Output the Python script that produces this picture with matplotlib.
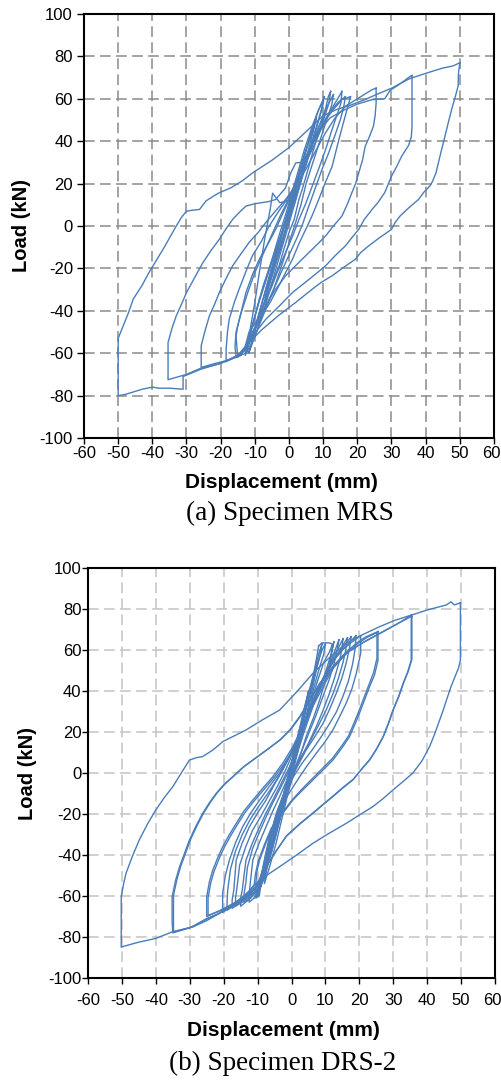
import matplotlib
matplotlib.use("Agg")
import matplotlib.pyplot as plt
from matplotlib.transforms import ScaledTranslation

# ---- (a) Specimen MRS : load-displacement cycles, (mm, kN) ----
mrs_c4 = [(2.5, 22), (1.8, 17), (0.5, 8), (-1, -2), (-2.5, -11), (-4, -18), (-5, -23), (-4.2, -17),
          (-3, -9), (-1.5, 0), (0, 8), (1.5, 16), (2.5, 22)]
mrs_c6 = [(5, 36), (4.3, 31), (2.5, 20), (0.5, 8), (-1.5, -4), (-3.5, -15), (-5.5, -26), (-7, -34),
          (-6.2, -28), (-4.5, -18), (-2.5, -7), (-0.5, 5), (1.5, 16), (3.5, 28), (5, 36)]
mrs_c8 = [(8, 51), (7.2, 45), (5, 32), (2.5, 17), (0, 3), (-2.5, -10), (-5, -24), (-7.5, -37),
          (-9.5, -47), (-10.3, -51), (-9.3, -44), (-7, -31), (-4.5, -17), (-2, -3), (0.5, 11),
          (3, 25), (5.5, 38), (8, 51)]
mrs_c10a = [(10.3, 61), (9.8, 56), (8, 46), (5.5, 32), (3, 18), (0.5, 4), (-2, -10), (-4.5, -24),
            (-7, -38), (-9.5, -50), (-11.8, -60), (-10.8, -54), (-8.5, -40), (-6, -25), (-3.5, -11),
            (-1, 3), (1.5, 17), (4, 31), (6.5, 44), (8.5, 54), (10.3, 61)]
mrs_c10b = [(10, 59), (9.5, 55), (7.5, 44), (5.5, 33), (3.5, 22), (1.5, 10), (0.2, 12), (-2.7, 11),
            (-4.8, 15.5), (-5.5, 8), (-7, -5), (-8.5, -20), (-10, -36), (-11.5, -50), (-12.3, -58),
            (-11.5, -52), (-9.5, -40), (-7.5, -28), (-5, -16), (-3, -5), (-0.5, 8), (2, 22),
            (4.5, 36), (7, 48), (8.7, 55), (10, 59)]
mrs_c12 = [(12.2, 63.5), (11.7, 58), (10.5, 52), (8.7, 44), (7, 35), (5.8, 28), (4, 18), (2.9, 12.5),
           (1.5, 3), (0, -3), (-1.5, -11), (-2.9, -18.8), (-5, -27), (-6.8, -34.5), (-9, -44),
           (-10.7, -51), (-12.6, -60), (-12, -55), (-10.7, -47), (-8.7, -34.5), (-6.8, -25),
           (-4.9, -15.7), (-3, -7), (-1, 1.6), (1, 10), (2.9, 18.8), (5, 29), (6.8, 37.6),
           (8.5, 46), (9.7, 50), (10.8, 56), (11.5, 61), (12.2, 63.5)]
mrs_c12b = [(13, 62), (12.5, 57), (11, 50), (9, 40), (7, 30), (5, 20), (3.5, 10), (2, 2), (0, -8),
            (-2, -18), (-4.5, -30), (-7, -40), (-9.5, -50), (-11.5, -57), (-12.8, -61),
            (-12.3, -56), (-11, -48), (-9, -37), (-7, -27), (-5, -17), (-3, -8), (-1, 2),
            (1.5, 13), (4, 26), (6.5, 38), (9, 48), (11, 56), (13, 62)]
mrs_c15 = [(15.5, 63.5), (15.2, 58), (14.6, 55), (12.5, 45), (10.7, 36), (8.7, 27), (6.8, 18.8),
           (5, 11), (2.9, 3), (1, -5), (-1, -12.5), (-3, -20), (-4.9, -28), (-7.5, -38),
           (-9.7, -47), (-11.5, -53), (-12.6, -56.5), (-14, -60), (-15, -62), (-15.2, -58),
           (-15.5, -52), (-15, -47), (-12.6, -31.4), (-10.7, -23), (-8.7, -15.7), (-6, -8),
           (-3.9, -1.6), (-1.5, 7), (1, 15.7), (3.5, 26), (6.8, 36), (9.5, 46), (11.7, 53),
           (13.5, 58), (15.5, 63.5)]
mrs_c15b = [(16.5, 61), (16, 56), (15, 50), (13.5, 43), (11.5, 34), (9.5, 26), (7.5, 17), (5.5, 8),
            (4, 1), (2.5, -5), (0.5, -12), (-1.5, -19), (-4, -28), (-6.5, -37), (-9, -46),
            (-11.5, -54), (-13, -59), (-15.5, -61.5), (-15.8, -57), (-15.5, -50), (-14, -41),
            (-12, -31), (-10, -22), (-7.5, -13), (-5, -4), (-2.5, 5), (0, 13), (3, 24), (6, 36),
            (9, 46), (12, 54), (14.5, 58.5), (16.5, 61)]
mrs_c18 = [(18, 61), (17.5, 58), (17, 55), (15.8, 48), (14.6, 40.8), (12.6, 28), (10.5, 20),
           (8.7, 12.5), (6.8, 5), (4.9, -1.6), (3, -8), (1, -15.7), (-1, -22), (-2.9, -28),
           (-5.5, -36), (-8.7, -44), (-11, -51), (-12.6, -56.5), (-15, -61), (-18.4, -64),
           (-18.4, -58), (-18, -50), (-17.5, -44), (-16, -36), (-14.6, -29.8), (-12.5, -21),
           (-10.7, -14), (-8, -7), (-5.8, 0), (-3, 7), (0, 14), (2.5, 22), (4.9, 31.4), (7.5, 41),
           (10.7, 50), (13, 55), (15.5, 59.6), (18, 61)]
mrs_c25 = [(25.5, 65), (25.5, 62), (25.5, 58), (25.2, 52), (24.7, 47), (23.5, 42), (22.3, 37.6),
           (21.5, 31), (20.4, 25), (19.5, 20), (18.4, 15.7), (17, 10), (15.5, 4.7), (13, 0),
           (10.7, -4.7), (8.7, -8), (6.8, -11), (3, -17), (-1, -23.5), (-4, -30), (-6.8, -37.6),
           (-9.5, -45), (-11.7, -50), (-13, -58), (-15, -61), (-18.4, -63.5), (-22, -65),
           (-25.7, -66.7), (-25.7, -62), (-25.7, -56.5), (-24.5, -49), (-23.3, -42.4), (-21.8, -37),
           (-20.4, -31.4), (-18.5, -25), (-16.5, -18.8), (-14, -13), (-11.7, -7.8), (-9, -3),
           (-6.8, 1.6), (-4, 7), (-1, 12.5), (2, 19), (4.9, 26.7), (8, 36), (10.7, 44),
           (13.5, 51), (16.5, 56.5), (20, 60), (22.5, 62.5), (24.3, 64.3), (25.5, 65)]
mrs_c35 = [(36, 71), (36, 65), (36, 55), (36, 47), (35.8, 42), (35, 38), (33, 33), (31.5, 28),
           (30, 23.5), (28, 15.7), (26, 11), (24.3, 7.8), (22, 3), (20.4, -1.6), (18.4, -5.5),
           (16.5, -9.4), (13.5, -14), (10.7, -18.8), (6, -25), (1, -31.4), (-3, -38), (-6.8, -44),
           (-9.7, -50), (-11.7, -55), (-12.6, -60), (-15, -61.5), (-20.4, -65), (-25.7, -67),
           (-30, -70), (-35.4, -72.5), (-35.4, -65), (-35.4, -55), (-34.2, -48), (-33, -42.4),
           (-31.5, -37), (-30, -31.4), (-27.5, -24), (-25.2, -17.3), (-22.8, -11.5), (-20.4, -6.3),
           (-18.5, -1.5), (-16.5, 3.1), (-14.5, 6.5), (-12.6, 9.4), (-10, 10.5), (-6, 11.5),
           (-3.9, 12.5), (-1, 18), (0.5, 25), (2, 29.8), (4, 30), (6, 36), (9, 45), (12, 51),
           (16.5, 55), (20, 57.5), (24.3, 59.6), (28, 60), (29.6, 64), (32, 66.5), (35.5, 70.6),
           (36, 71)]
mrs_c50 = [(50, 77), (49.6, 72), (49.5, 66), (48.5, 60), (47.6, 55), (46.5, 48), (45.6, 42),
           (44.5, 35), (43, 25), (42, 21), (41.3, 19), (39.5, 16), (37.9, 12.5), (35, 8.5),
           (32.5, 4.7), (31, 1.5), (30, -1.6), (26.5, -5.5), (23.3, -9.4), (21, -12.5),
           (19.4, -15.7), (16, -19.5), (12.6, -23.5), (9.5, -26.5), (6.8, -29.8), (2, -36),
           (-2.9, -42), (-8, -49), (-12.6, -56.5), (-14, -61), (-20.4, -65), (-25.7, -67.5),
           (-31, -71), (-31, -77), (-35, -76.5), (-38, -76.5), (-40, -76), (-43, -77), (-46, -78.5),
           (-48, -79.5), (-50, -80), (-50, -70), (-50, -60), (-50, -53), (-49.5, -51), (-48.5, -47),
           (-47, -41), (-45.6, -34.5), (-43, -28), (-41, -22), (-39.8, -18.8), (-36.5, -10),
           (-33, 0), (-31.5, 4), (-30, 7), (-28, 7.5), (-26.2, 7.8), (-24.3, 11.8), (-22.2, 14),
           (-20.4, 15.7), (-17, 18), (-13.5, 21.5), (-10.7, 25), (-5, 31), (0, 37), (4, 43),
           (8, 49), (10, 52), (14, 55), (18, 57), (22, 59.5), (25.6, 62), (30, 65), (35.3, 69.5),
           (40, 72), (45, 74.5), (48, 75.5), (50, 77)]

# ---- (b) Specimen DRS-2 ----
drs_c3 = [(2.5, 22), (2, 18), (0.5, 6), (-1, -5), (-2.5, -16), (-3.5, -23), (-3, -19), (-1.5, -7),
          (0, 4), (1.5, 15), (2.5, 22)]
drs_c5 = [(5, 40), (4.5, 35), (3, 22), (1, 8), (-1, -6), (-3, -20), (-5, -33), (-6, -39),
          (-5.3, -33), (-3.5, -20), (-1.5, -6), (0.5, 8), (2.5, 22), (4, 33), (5, 40)]
drs_c8 = [(7.5, 54), (7, 48), (5.5, 36), (3.5, 22), (1.5, 8), (-0.5, -6), (-2.5, -20), (-4.5, -34),
          (-6.5, -46), (-8, -54), (-7.5, -48), (-6, -36), (-4, -22), (-2, -8), (0, 5), (2, 19),
          (4, 33), (6, 45), (7.5, 54)]
drs_c10a = [(8, 62), (9, 63.5), (11, 63.5), (12, 63), (11.5, 60), (9.5, 54), (7.5, 44), (5, 30),
            (2.5, 15), (0, 0), (-2.5, -15), (-5, -30), (-7.5, -45), (-9.5, -56), (-10.5, -61),
            (-9.5, -60), (-9, -54), (-7, -42), (-5, -30), (-3, -17), (-1, -4), (1, 9), (3, 23),
            (5, 37), (6.5, 48), (7.5, 57), (8, 62)]
drs_c10b = [(10, 63), (9.5, 58), (8, 50), (6, 38), (3.5, 23), (1, 8), (-1.5, -8), (-4, -24),
            (-6.5, -39), (-8.5, -51), (-10, -59), (-11, -61), (-10, -57), (-8, -46), (-6, -34),
            (-4, -21), (-2, -8), (0.5, 8), (2.5, 21), (4.5, 34), (6.5, 46), (8, 55), (9, 60),
            (10, 63)]
drs_c10c = [(9, 63), (8.5, 58), (7, 48), (5, 36), (3, 23), (0.5, 7), (-2, -10), (-4.5, -27),
            (-7, -43), (-9, -55), (-10, -60), (-9.2, -56), (-7.5, -46), (-5.5, -33), (-3.5, -20),
            (-1.5, -7), (1, 10), (3.5, 26), (5.5, 40), (7, 51), (8, 58), (9, 63)]
drs_c12 = [(12.5, 64), (12, 60), (11.2, 52), (9.8, 44), (8.3, 35.6), (6.5, 27), (4.3, 17.7),
           (2.5, 8), (0.4, -1.8), (-1.5, -12), (-3.5, -23), (-5, -33), (-6.5, -42.4), (-8, -51),
           (-9.5, -57), (-11, -61), (-12.5, -63), (-12.5, -60), (-12.3, -56), (-11.4, -42.4),
           (-9.5, -34), (-7.5, -26.2), (-5.5, -18.5), (-3.5, -11.5), (-1, -2), (1.4, 8),
           (3.5, 19), (6.3, 32.4), (8.5, 42), (10.2, 50), (11.5, 57), (12.5, 64)]
drs_c14 = [(14, 65), (13.5, 60), (12.5, 53), (11, 45), (9.2, 37), (7.2, 28), (5, 19), (2.8, 10),
           (0.6, 1), (-1.5, -8), (-3.5, -18), (-5.2, -28), (-6.8, -39), (-8.2, -49), (-9.8, -56),
           (-12, -60.5), (-14, -63), (-14, -59), (-13.5, -54), (-13, -46), (-11.5, -37),
           (-9.5, -29), (-7.5, -21.5), (-5.5, -14.5), (-3, -6.5), (-0.8, 1), (1.5, 11), (4, 23),
           (6.5, 35), (9, 45), (11.5, 54), (14, 65)]
drs_c15 = [(15.2, 65.5), (14.8, 60), (14.2, 55), (12.8, 47), (11.2, 38.9), (9.3, 30.5),
           (7.3, 22.6), (5, 14.5), (2.4, 6.3), (0.3, -1.8), (-1.6, -9.9), (-3.3, -19), (-5, -29.4),
           (-6.5, -40), (-7.8, -50.6), (-9.5, -56), (-12, -61), (-15, -65), (-15, -61),
           (-14.5, -57), (-14, -50), (-13.4, -42.4), (-11.5, -34), (-9.4, -26.2), (-7.5, -19.5),
           (-5.5, -13.2), (-3, -5), (-0.6, 3), (2, 14), (4.3, 25.9), (6.8, 36), (9.3, 45.4),
           (12, 55), (13.5, 60), (15.2, 65.5)]
drs_c16 = [(16.5, 66), (16, 60), (15.2, 54), (13.8, 46), (12.2, 38.5), (10.3, 31), (8.2, 24),
           (6, 17), (3.5, 9.5), (1, 2), (-1.2, -6), (-3.2, -15), (-5, -25), (-6.5, -35),
           (-7.8, -45), (-9, -52), (-11, -58), (-14, -62.5), (-16.5, -65), (-16.5, -61),
           (-16, -55), (-15.3, -45), (-13.5, -36), (-11.5, -28), (-9, -21), (-6.5, -13.5),
           (-4, -6), (-1.6, 2), (1, 12), (3.6, 24), (6.5, 36), (9.5, 46.5), (12, 54), (14.5, 60.5),
           (16.5, 66)]
drs_c18 = [(17.6, 66.5), (17, 60), (16.1, 53.5), (14.8, 46), (13.2, 38.9), (11.2, 31), (9.3, 24.2),
           (6.8, 17.5), (4.3, 11.2), (2, 4), (-0.6, -3.4), (-2.5, -11), (-4.5, -19.7), (-6, -29),
           (-7.5, -39.2), (-8.5, -47), (-9.5, -53), (-12, -59), (-15, -63), (-17.5, -66),
           (-17.5, -62), (-17, -57), (-16.3, -42.4), (-14.5, -34), (-12.4, -26.2), (-10, -19.5),
           (-7.5, -13.2), (-5, -5.5), (-2.6, 1.5), (0, 10), (2.4, 19.3), (5.3, 30.5), (8.3, 42),
           (10.8, 50), (13.2, 56.7), (15.5, 62), (17.6, 66.5)]
drs_c19 = [(19, 67), (18.8, 61), (18, 53), (16.8, 45), (15.2, 37.5), (13.3, 30), (11, 23.5),
           (8.5, 17), (6, 11), (3.2, 5), (0.5, -2), (-2, -9.5), (-4, -18), (-5.6, -27), (-7, -37),
           (-8.3, -46), (-9.5, -53), (-12.5, -59.5), (-16, -63.5), (-19, -67), (-19, -63),
           (-18.8, -57), (-18, -47), (-16.5, -38), (-14.5, -30), (-12.3, -23), (-9.8, -16.5),
           (-7, -10), (-4.2, -3), (-1.5, 5), (1, 13), (3.5, 23), (6.5, 35), (9.5, 46), (12.5, 55),
           (15.5, 61), (19, 67)]
drs_c20 = [(20.4, 67), (20.4, 63), (20.4, 58.4), (19.1, 48.6), (17.8, 41), (16.1, 34), (14.2, 27.5),
           (12.2, 21), (9.8, 15), (7.3, 9.6), (4.8, 4), (2.4, -1.8), (0, -8), (-2.6, -14.8),
           (-4.6, -22), (-6.5, -31), (-7.8, -41), (-9, -50.6), (-10, -55), (-13, -60),
           (-16.5, -64), (-20.3, -68), (-20.3, -64), (-20.3, -58.7), (-19.5, -50), (-18.3, -42.4),
           (-16.5, -34), (-14.4, -26.2), (-12, -19.5), (-9.4, -13.2), (-6.5, -6.5), (-3.5, 0),
           (-1, 7), (1.4, 14.5), (3.8, 24.5), (6.3, 35.6), (9.3, 46), (12.2, 55), (15, 60),
           (17.5, 63.5), (20.4, 67)]
drs_c25 = [(25.5, 69), (25.5, 63), (25.5, 55), (24.5, 48), (23, 42), (21.5, 35.5), (20, 29),
           (18.5, 23), (17.1, 17.7), (15, 12.5), (12.2, 6.3), (9.3, 1.5), (6.3, -3.4), (3.3, -8.3),
           (0.4, -13.2), (-2.5, -19.5), (-5.5, -26.2), (-7.5, -34), (-9.4, -42.4), (-10.2, -48),
           (-10.5, -53.8), (-13, -59), (-17, -63.5), (-21, -67), (-25, -70), (-25, -65),
           (-25, -60.3), (-24.2, -53), (-23.2, -47.3), (-21.8, -41.5), (-20.3, -36), (-18.3, -30),
           (-16.3, -24.6), (-14, -18.5), (-11.4, -13.2), (-8.5, -7.5), (-5.5, -1.8), (-2.5, 5),
           (0.4, 12.8), (3.3, 23), (6.3, 34), (9.3, 43.5), (12.2, 51.9), (15.5, 58), (19.1, 63.3),
           (22, 66.5), (25.5, 69)]
drs_c25b = [(25.2, 68.5), (25.2, 62), (25.2, 56), (24.2, 49), (22.7, 42.5), (21.2, 36),
            (19.7, 29.5), (18.2, 23.5), (16.8, 18), (14.7, 13), (12, 7), (9, 2), (6, -3), (3, -8),
            (0, -13.5), (-3, -20), (-6, -27), (-8, -35), (-9.8, -43), (-10.6, -49), (-11, -54.5),
            (-13.5, -60), (-17.5, -64.5), (-21.5, -67.5), (-24.6, -69.5), (-24.6, -64),
            (-24.6, -60.8), (-23.8, -53.5), (-22.8, -47.8), (-21.4, -42), (-19.9, -36.5),
            (-17.9, -30.5), (-15.9, -25), (-13.6, -19), (-11, -13.6), (-8.1, -8), (-5.1, -2.2),
            (-2.1, 4.6), (0.8, 12.4), (3.6, 22.5), (6.6, 33.5), (9.6, 43), (12.5, 51.5),
            (15.8, 57.6), (19.4, 63), (22.3, 66.2), (25.2, 68.5)]
drs_c35 = [(35.3, 77), (35.3, 70), (35.3, 62), (35.3, 55), (34.2, 49), (32.9, 43.7), (31.5, 37),
           (29.9, 30.7), (28.5, 24), (27, 17.7), (25, 11.5), (23, 6.3), (20.5, 1.5), (18.1, -3.4),
           (15, -7.5), (12.2, -11.5), (9.3, -15.5), (6.3, -19.7), (2.4, -25), (-1.6, -31),
           (-4.5, -38), (-7.5, -45.7), (-9, -50.5), (-10.4, -55.4), (-13, -59.5), (-17, -64),
           (-21.3, -68.5), (-25, -71), (-29, -75), (-35, -78), (-35.2, -72), (-35.2, -66),
           (-35.2, -60.3), (-34.2, -52.5), (-33, -45.7), (-31.5, -39), (-30.1, -32.7), (-28.2, -26),
           (-26.2, -19.7), (-24.2, -14.5), (-22.2, -9.9), (-19.8, -5.5), (-17.3, -1.8),
           (-14.5, 2.5), (-11.4, 6.3), (-7.5, 11), (-3.5, 16), (-0.5, 21), (2.4, 27.5),
           (5.3, 35.5), (8.3, 43.7), (12, 51.5), (16.1, 58.4), (21, 63.5), (26, 68), (31, 72.5),
           (35.3, 77)]
drs_c35b = [(35.5, 76.5), (35.5, 68), (35.5, 60), (35.5, 55.5), (34.4, 49.5), (33.1, 44.2),
            (31.7, 37.5), (30.1, 31.2), (28.7, 24.5), (27.2, 18.2), (25.2, 12), (23.2, 6.8),
            (20.7, 2), (18.3, -2.9), (15.2, -7), (12.4, -11), (9.5, -15), (6.5, -19.2), (2.6, -24.5),
            (-1.4, -30.5), (-4.3, -37.5), (-7.3, -45.2), (-8.8, -50), (-10.2, -55), (-13.5, -60.5),
            (-18, -65), (-22, -69), (-26, -72), (-30, -75.5), (-34.8, -77.5), (-34.8, -71),
            (-34.8, -65), (-34.8, -59.8), (-33.8, -52), (-32.6, -45.2), (-31.1, -38.5),
            (-29.7, -32.2), (-27.8, -25.5), (-25.8, -19.2), (-23.8, -14), (-21.8, -9.4),
            (-19.4, -5), (-16.9, -1.3), (-14.1, 3), (-11, 6.8), (-7.1, 11.5), (-3.1, 16.5),
            (-0.1, 21.5), (2.8, 28), (5.7, 36), (8.7, 44.2), (12.4, 52), (16.5, 58.9), (21.4, 64),
            (26.4, 68.5), (31.4, 73), (35.5, 76.5)]
drs_c50 = [(49.8, 83), (49.8, 75), (49.8, 65), (49.8, 55), (49.2, 51), (48.6, 48.6), (47, 42),
           (45.7, 35.6), (44.7, 30.5), (43.7, 25.9), (42.2, 19), (40.7, 12.8), (38.5, 6),
           (35.8, 0), (33, -4), (29.9, -8.3), (27, -12.5), (24, -16.4), (20, -20.5), (16.1, -24.6),
           (11, -29.5), (6.3, -34.3), (1.5, -40), (-3.5, -45.7), (-6.5, -49), (-9.4, -52.2),
           (-12.5, -57.5), (-15.4, -62), (-18.5, -65.5), (-21.3, -68.5), (-25, -72), (-29, -75),
           (-35, -77.4), (-40, -80.7), (-45, -82.5), (-49.8, -84.7), (-50.2, -85), (-50.2, -80),
           (-50.2, -70), (-50.2, -60.3), (-49.5, -54), (-48.8, -49), (-47, -41), (-44.9, -32.7),
           (-42.5, -25), (-40, -18), (-37.5, -12), (-35, -6.7), (-32.5, 0), (-30.1, 6.3),
           (-28, 7.5), (-26.2, 8), (-24.8, 9.5), (-23.2, 11.2), (-21.5, 13.5), (-20.3, 15.3),
           (-17, 18), (-13.4, 21), (-8.5, 26), (-3.5, 30.7), (1.5, 39.5), (6.3, 48.6), (11, 56),
           (16.1, 63.3), (21, 67.5), (26, 71.4), (30.5, 74.5), (35.3, 77), (40, 79.5), (45.7, 82),
           (47, 83.5), (48, 82), (49.8, 83)]

mrs_cycles = [mrs_c4, mrs_c6, mrs_c8, mrs_c10a, mrs_c10b, mrs_c12, mrs_c12b, mrs_c15, mrs_c15b,
              mrs_c18, mrs_c25, mrs_c35, mrs_c50]
drs_cycles = [drs_c3, drs_c5, drs_c8, drs_c10a, drs_c10b, drs_c10c, drs_c12, drs_c14, drs_c15,
              drs_c16, drs_c18, drs_c19, drs_c20, drs_c25, drs_c25b, drs_c35, drs_c35b, drs_c50]

x_ticks = list(range(-60, 61, 10))
y_ticks = list(range(-100, 101, 20))

SANS = "Liberation Sans"
SERIF = "Liberation Serif"
LINE = "#4a7dba"

fig = plt.figure(figsize=(5.02, 10.8), dpi=100)
W, H = 502, 1080


def panel(box, cycles, grid_col, xpad, ylen, ypad):
    l, t, r, b = box
    ax = fig.add_axes([l / W, 1 - b / H, (r - l) / W, (b - t) / H])
    for cyc in cycles:
        xs = [p[0] for p in cyc]
        ys = [p[1] for p in cyc]
        ax.plot(xs, ys, color=LINE, lw=1.0, zorder=3)
    ax.set_xlim(-60, 60)
    ax.set_ylim(-100, 100)
    ax.set_xticks(x_ticks)
    ax.set_yticks(y_ticks)
    ax.set_xticklabels([str(v) for v in x_ticks], fontfamily=SANS, fontsize=12)
    ax.set_yticklabels([str(v) for v in y_ticks], fontfamily=SANS, fontsize=12)
    ax.tick_params(direction="out", width=1, colors="black")
    ax.tick_params(axis="x", length=4, pad=xpad)
    ax.tick_params(axis="y", length=ylen, pad=ypad)
    # last x label sits a bit to the left, as in the original
    last = ax.get_xticklabels()[-1]
    last.set_transform(last.get_transform() + ScaledTranslation(-0.03, 0, fig.dpi_scale_trans))
    ax.grid(True, color=grid_col, lw=1.1, linestyle=(0, (7, 3.5)), zorder=1)
    ax.set_axisbelow(True)
    for s in ax.spines.values():
        s.set_linewidth(1.5)
        s.set_color("black")
    return ax


panel((84, 14, 494, 438), mrs_cycles, "#8a8a8a", xpad=2, ylen=5, ypad=3)
panel((88, 568, 495, 978), drs_cycles, "#c4c4c4", xpad=7, ylen=4.3, ypad=0.5)

# axis titles and captions
fig.text(22 / W, 1 - 226 / H, "Load (kN)", rotation=90, ha="center", va="center",
         fontfamily=SANS, fontweight="bold", fontsize=14.5)
fig.text(281 / W, 1 - 483 / H, "Displacement (mm)", ha="center", va="center",
         fontfamily=SANS, fontweight="bold", fontsize=15)
fig.text(290 / W, 1 - 513 / H, "(a) Specimen MRS", ha="center", va="center",
         fontfamily=SERIF, fontsize=19.5)

fig.text(28 / W, 1 - 773 / H, "Load (kN)", rotation=90, ha="center", va="center",
         fontfamily=SANS, fontweight="bold", fontsize=14.5)
fig.text(283 / W, 1 - 1030 / H, "Displacement (mm)", ha="center", va="center",
         fontfamily=SANS, fontweight="bold", fontsize=15)
fig.text(283 / W, 1 - 1063 / H, "(b) Specimen DRS-2", ha="center", va="center",
         fontfamily=SERIF, fontsize=19.5)

fig.savefig("out.png", dpi=100)
